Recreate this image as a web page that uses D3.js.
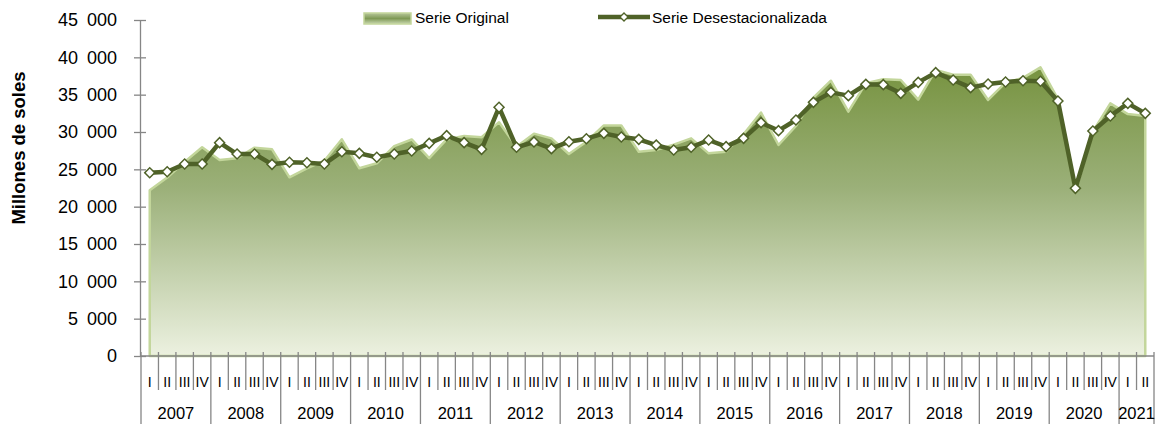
<!DOCTYPE html>
<html>
<head>
<meta charset="utf-8">
<script src="https://cdn.jsdelivr.net/npm/d3@7"></script>
<style>
  body { margin: 0; background: #fff; }
  text { font-family: "Liberation Sans", Arial, sans-serif; fill: #000; }
</style>
</head>
<body>
<div id="chart"></div>
<script>
// data (millones de soles)
const years = ["2007","2008","2009","2010","2011","2012","2013","2014","2015","2016","2017","2018","2019","2020","2021"];
const quarterNames = ["I","II","III","IV"];
const yTicks = [0, 5000, 10000, 15000, 20000, 25000, 30000, 35000, 40000, 45000];

const serieOriginal = [
  22200, 23900, 26000, 27950,   // 2007
  26250, 26470, 27900, 27680,   // 2008
  23930, 25140, 26160, 29020,   // 2009
  25140, 25810, 28100, 29000,   // 2010
  26500, 29000, 29460, 29290,   // 2011
  31300, 28030, 29780, 29150,   // 2012
  27050, 28700, 30870, 30870,   // 2013
  27360, 27600, 28300, 29150,   // 2014
  27140, 27360, 29700, 32600,   // 2015
  28260, 30800, 34600, 36870,   // 2016
  32720, 36520, 37060, 36970,   // 2017
  34330, 38300, 37680, 37680,   // 2018
  34290, 36600, 37250, 38660,   // 2019
  34400, 22000, 30040, 33840,   // 2020
  32400, 32150                  // 2021
];

const serieDesest = [
  24550, 24680, 25710, 25710,
  28570, 27050, 27050, 25670,
  25940, 25890, 25710, 27360,
  27140, 26610, 27050, 27460,
  28480, 29510, 28570, 27680,
  33310, 27950, 28660, 27770,
  28700, 29100, 29820, 29330,
  29020, 28250, 27590, 27950,
  28930, 28040, 29150, 31250,
  30180, 31610, 33970, 35310,
  34870, 36380, 36340, 35180,
  36650, 37950, 36970, 35940,
  36430, 36700, 36870, 36790,
  34150, 22450, 30130, 32140,
  33840, 32500
];

const periods = years.flatMap(y => quarterNames.map(q => y + "-" + q)).slice(0, serieDesest.length);

const margin = {top: 20, right: 13, bottom: 69, left: 141},
  width = 1167 - margin.left - margin.right,
  height = 425 - margin.top - margin.bottom;

const svgRoot = d3.select("#chart")
  .append("svg")
    .attr("width", 1167)
    .attr("height", 425);

const svg = svgRoot.append("g")
  .attr("transform", "translate(" + margin.left + "," + margin.top + ")");

// gradients
const defs = svgRoot.append("defs");
const grad = defs.append("linearGradient")
  .attr("id", "areaGrad")
  .attr("gradientUnits", "userSpaceOnUse")
  .attr("x1", 0).attr("x2", 0)
  .attr("y1", 30).attr("y2", height);
grad.append("stop").attr("offset", "0%").attr("stop-color", "#728f38");
grad.append("stop").attr("offset", "45%").attr("stop-color", "#9bb079");
grad.append("stop").attr("offset", "100%").attr("stop-color", "#ecf1e0");

const legGrad = defs.append("linearGradient")
  .attr("id", "legGrad")
  .attr("x1", 0).attr("x2", 0).attr("y1", 0).attr("y2", 1);
legGrad.append("stop").attr("offset", "0%").attr("stop-color", "#b7c79a");
legGrad.append("stop").attr("offset", "50%").attr("stop-color", "#7f9a55");
legGrad.append("stop").attr("offset", "100%").attr("stop-color", "#c9d7b0");

// scales
const x = d3.scaleBand()
  .domain(periods)
  .range([0, width]);

const y = d3.scaleLinear()
  .domain([0, 45000])
  .range([height, 0]);

const cx = (d, i) => x(periods[i]) + x.bandwidth() / 2;

// area (serie original)
svg.append("path")
  .datum(serieOriginal)
  .attr("fill", "url(#areaGrad)")
  .attr("stroke", "#c3d69b")
  .attr("stroke-width", 2.5)
  .attr("stroke-linejoin", "round")
  .attr("d", d3.area().x(cx).y0(height).y1(d => y(d)));

// y axis
const fmt = d3.formatLocale({decimal: ",", thousands: "\u2002", grouping: [3], currency: ["", ""]}).format(",");

const yAxis = svg.append("g")
  .attr("transform", "translate(-1,0)")
  .call(d3.axisLeft(y).tickValues(yTicks).tickSizeInner(6).tickSizeOuter(0).tickPadding(17).tickFormat(fmt));
yAxis.select(".domain").attr("stroke", "#868686").attr("stroke-width", 1.3);
yAxis.selectAll(".tick line").attr("x1", -6).attr("x2", 6).attr("stroke", "#868686").attr("stroke-width", 1.3);
yAxis.selectAll(".tick text").style("font-size", "18px").attr("fill", "#000");

// x axis: line, quarter ticks and year separators
const xAxis = svg.append("g")
  .attr("transform", "translate(0," + height + ")");

xAxis.append("line")
  .attr("x1", -1).attr("x2", width)
  .attr("y1", 0).attr("y2", 0)
  .attr("stroke", "#868686")
  .attr("stroke-width", 1.3);

const bounds = periods.map((p, i) => i).concat([periods.length]);
xAxis.selectAll("tickLine")
  .data(bounds)
  .enter()
  .append("line")
    .attr("x1", i => i < periods.length ? x(periods[i]) : width)
    .attr("x2", i => i < periods.length ? x(periods[i]) : width)
    .attr("y1", -4)
    .attr("y2", i => (i % 4 === 0 || i === periods.length) ? 68 : 34)
    .attr("stroke", "#868686")
    .attr("stroke-width", 1.3);

xAxis.selectAll("qLabel")
  .data(periods)
  .enter()
  .append("text")
    .attr("x", (d, i) => cx(d, i))
    .attr("y", 26)
    .attr("dy", "0.35em")
    .attr("text-anchor", "middle")
    .style("font-size", "14px")
    .text(d => d.split("-")[1]);

xAxis.selectAll("yLabel")
  .data(years)
  .enter()
  .append("text")
    .attr("x", yr => {
      const ps = periods.filter(p => p.startsWith(yr));
      return (x(ps[0]) + x(ps[ps.length - 1]) + x.bandwidth()) / 2;
    })
    .attr("y", 57)
    .attr("dy", "0.35em")
    .attr("text-anchor", "middle")
    .style("font-size", "16.5px")
    .text(d => d);

// line (serie desestacionalizada)
svg.append("path")
  .datum(serieDesest)
  .attr("fill", "none")
  .attr("stroke", "#4f6228")
  .attr("stroke-width", 4.5)
  .attr("stroke-linejoin", "round")
  .attr("d", d3.line().x(cx).y(d => y(d)));

const diamond = d3.symbol(d3.symbolSquare, 50);
svg.selectAll("marker")
  .data(serieDesest)
  .enter()
  .append("path")
    .attr("d", diamond)
    .attr("transform", (d, i) => "translate(" + cx(d, i) + "," + y(d) + ") rotate(45)")
    .attr("fill", "#fff")
    .attr("stroke", "#4f6228")
    .attr("stroke-width", 1.5);

// y axis title
svgRoot.append("text")
  .attr("transform", "translate(25,148) rotate(-90)")
  .attr("text-anchor", "middle")
  .style("font-size", "18.5px")
  .style("font-weight", "bold")
  .text("Millones de soles");

// legend
const legend = svgRoot.append("g");
legend.append("rect")
  .attr("x", 364).attr("y", 13)
  .attr("width", 47).attr("height", 11)
  .attr("fill", "url(#legGrad)")
  .attr("stroke", "#c3d69b")
  .attr("stroke-width", 1.5);
legend.append("text")
  .attr("x", 415).attr("y", 18)
  .attr("dy", "0.35em")
  .style("font-size", "15.5px")
  .text("Serie Original");

legend.append("line")
  .attr("x1", 598).attr("x2", 650)
  .attr("y1", 17).attr("y2", 17)
  .attr("stroke", "#4f6228")
  .attr("stroke-width", 4.5);
legend.append("path")
  .attr("d", d3.symbol(d3.symbolSquare, 32))
  .attr("transform", "translate(624,17) rotate(45)")
  .attr("fill", "#fff")
  .attr("stroke", "#4f6228")
  .attr("stroke-width", 1.3);
legend.append("text")
  .attr("x", 652).attr("y", 18)
  .attr("dy", "0.35em")
  .style("font-size", "15.5px")
  .text("Serie Desestacionalizada");
</script>
</body>
</html>
